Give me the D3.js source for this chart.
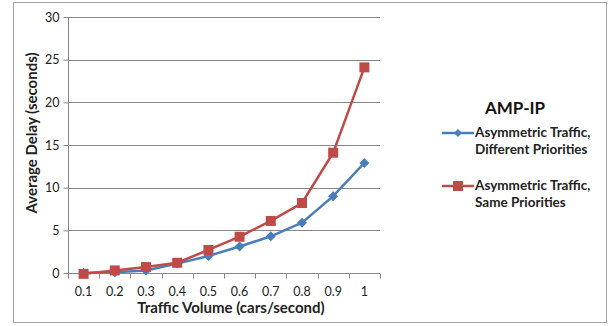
<!DOCTYPE html>
<html><head><meta charset="utf-8">
<script src="https://cdn.jsdelivr.net/npm/d3@7"></script>
<style>body{margin:0;background:#fff}svg{display:block}</style>
</head><body>
<script>
const categories = ["0.1","0.2","0.3","0.4","0.5","0.6","0.7","0.8","0.9","1"];
const diffPriorities = [0.0, 0.1, 0.3, 1.1, 2.0, 3.1, 4.3, 5.9, 9.0, 12.9];
const samePriorities = [-0.1, 0.3, 0.7, 1.2, 2.7, 4.25, 6.1, 8.2, 14.1, 24.1];
const yTicks = [0, 5, 10, 15, 20, 25, 30];
const seriesNames = ["Asymmetric Traffic,|Different Priorities", "Asymmetric Traffic,|Same Priorities"];
const legendTitle = "AMP-IP";

const W = 608, H = 326;
const font = "Lato, 'Open Sans', sans-serif";
const svg = d3.select("body").append("svg").attr("width", W).attr("height", H);
svg.append("rect").attr("x", 13.5).attr("y", 2.5).attr("width", 593).attr("height", 320)
  .attr("fill", "#fff").attr("stroke", "#a6a6a6");

const x = d3.scaleBand().domain(categories).range([68, 380]);
const y = d3.scaleLinear().domain([0, 30]).range([273, 17]);

// gridlines
svg.append("g").selectAll("line").data(yTicks.filter(d => d > 0)).join("line")
  .attr("x1", 68).attr("x2", 380).attr("y1", d => Math.round(y(d)) + 0.5).attr("y2", d => Math.round(y(d)) + 0.5)
  .attr("stroke", "#868686").attr("stroke-width", 1);

// y axis
const yAxis = svg.append("g").attr("transform", "translate(68.5,0)")
  .call(d3.axisLeft(y).tickValues(yTicks).tickSize(5).tickPadding(4));
yAxis.select(".domain").attr("stroke", "#868686").attr("d", `M0,${y(30)}V${y(0)}`);
yAxis.selectAll(".tick line").attr("stroke", "#868686");
yAxis.selectAll("text").attr("font-family", font).attr("font-size", 12.5).attr("fill", "#222");

// x axis
const xg = svg.append("g").attr("transform", `translate(0,${Math.round(y(0)) + 0.5})`);
xg.append("line").attr("x1", 68).attr("x2", 380).attr("stroke", "#868686");
const bounds = d3.range(categories.length + 1).map(i => 68 + i * x.step());
xg.selectAll("line.tk").data(bounds).join("line").attr("class", "tk")
  .attr("x1", d => Math.round(d) + 0.5).attr("x2", d => Math.round(d) + 0.5).attr("y1", 0).attr("y2", 5)
  .attr("stroke", "#868686");
xg.selectAll("text").data(categories).join("text")
  .attr("x", d => x(d) + x.bandwidth() / 2).attr("y", 22.5)
  .attr("text-anchor", "middle").attr("font-family", font).attr("font-size", 12.5).attr("fill", "#222")
  .text(d => d);

// axis titles
svg.append("text").attr("x", 231).attr("y", 313).attr("text-anchor", "middle")
  .attr("font-family", font).attr("font-weight", "bold").attr("font-size", 15).attr("fill", "#222")
  .text("Traffic Volume (cars/second)");
svg.append("text").attr("transform", "translate(37,133) rotate(-90)").attr("text-anchor", "middle")
  .attr("font-family", font).attr("font-weight", "bold").attr("font-size", 15).attr("fill", "#222")
  .text("Average Delay (seconds)");

const cx = d => x(d) + x.bandwidth() / 2;
const line = d3.line().x((d, i) => cx(categories[i])).y(d => y(d));
const blue = "#4a7ebb", red = "#be4b48";

// blue series
svg.append("path").datum(diffPriorities).attr("d", line).attr("fill", "none")
  .attr("stroke", blue).attr("stroke-width", 2.5);
svg.append("g").selectAll("path").data(diffPriorities).join("path")
  .attr("transform", (d, i) => `translate(${cx(categories[i])},${y(d)})`)
  .attr("d", "M0,-5L5,0L0,5L-5,0Z").attr("fill", blue);

// red series
svg.append("path").datum(samePriorities).attr("d", line).attr("fill", "none")
  .attr("stroke", red).attr("stroke-width", 2.5);
svg.append("g").selectAll("rect").data(samePriorities).join("rect")
  .attr("x", (d, i) => cx(categories[i]) - 5).attr("y", d => y(d) - 5)
  .attr("width", 10).attr("height", 10).attr("fill", red);

// legend
svg.append("text").attr("x", 485).attr("y", 114).attr("font-family", font).attr("font-weight", "bold")
  .attr("font-size", 17).attr("fill", "#111").text(legendTitle);
const leg = [{y: 133, c: blue, m: "d"}, {y: 186, c: red, m: "s"}];
leg.forEach((l, i) => {
  const g = svg.append("g");
  g.append("line").attr("x1", 442).attr("x2", 474).attr("y1", l.y).attr("y2", l.y).attr("stroke", l.c).attr("stroke-width", 2.5);
  if (l.m === "d") g.append("path").attr("transform", `translate(458,${l.y})`).attr("d", "M0,-4L4,0L0,4L-4,0Z").attr("fill", l.c);
  else g.append("rect").attr("x", 453).attr("y", l.y - 5).attr("width", 10).attr("height", 10).attr("fill", l.c);
  const parts = seriesNames[i].split("|");
  parts.forEach((p, j) => g.append("text").attr("x", 475).attr("y", l.y + 4 + j * 17)
    .attr("font-family", font).attr("font-weight", "bold").attr("font-size", 13.5).attr("fill", "#222").text(p));
});
</script>
</body></html>
